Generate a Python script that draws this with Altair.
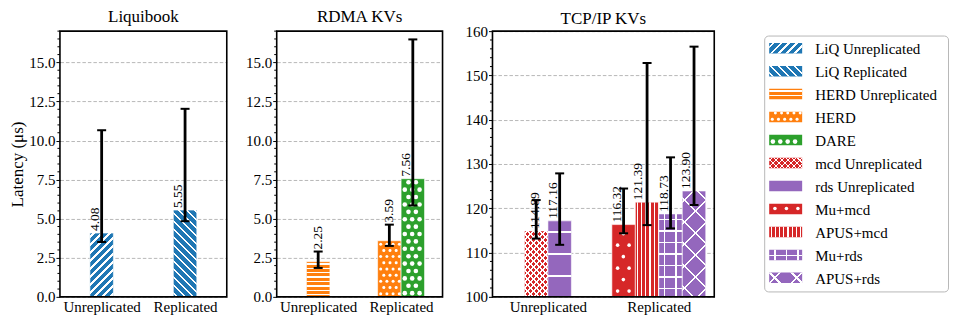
import altair as alt
import pandas as pd

FONT = "Liberation Serif"

# ---------------- data ----------------
panel_titles = ["Liquibook", "RDMA KVs", "TCP/IP KVs"]
group_names = ["Unreplicated", "Replicated"]

series_names = ["LiQ Unreplicated", "LiQ Replicated", "HERD Unreplicated", "HERD", "DARE",
                "mcd Unreplicated", "rds Unreplicated", "Mu+mcd", "APUS+mcd", "Mu+rds", "APUS+rds"]
series_panel = [0, 0, 1, 1, 1, 2, 2, 2, 2, 2, 2]
series_group = [0, 1, 0, 1, 1, 0, 0, 1, 1, 1, 1]
latency = [4.08, 5.55, 2.25, 3.59, 7.56, 114.89, 117.16, 116.32, 121.39, 118.73, 123.90]
err_low = [3.51, 4.84, 1.85, 3.26, 5.85, 113.16, 111.75, 114.35, 116.20, 115.46, 120.74]
err_high = [10.66, 12.03, 2.90, 4.62, 16.47, 121.86, 127.88, 124.46, 152.80, 131.50, 156.50]

# ---------------- style ----------------
series_color = ["#1f77b4", "#1f77b4", "#ff7f0e", "#ff7f0e", "#2ca02c",
                "#d62728", "#9467bd", "#d62728", "#d62728", "#9467bd", "#9467bd"]
# hatch: list of (kind, period px, line width px) ; "dots": (spacing, radius)
series_hatch = [
    [("d1", 8.0, 2.2)],
    [("d2", 8.0, 2.2)],
    [("h", 4.4, 1.4)],
    [("dots", 6.2, 1.5)],
    [("dots", 7.4, 2.3)],
    [("d1", 6.0, 1.8), ("d2", 6.0, 1.8)],
    [("h", 22.0, 1.4)],
    [("dots", 11.5, 1.8)],
    [("v", 4.2, 1.2)],
    [("h", 11.5, 1.3), ("v", 11.5, 1.3)],
    [("d1", 22.0, 2.2), ("d2", 22.0, 2.2)],
]
label_on_cap = [False, False, True, True, False, False, False, False, False, False, False]
label_shift_px = [-7, -7, 0, 0, -7, -1.5, -7, -7, -9, -7, -8]

panel_ydomain = [(0, 17), (0, 17), (100, 160)]
panel_yticks = [(0.5, 2.5, ".1f"), (0.5, 2.5, ".1f"), (2, 10, "d")]
panel_width = [167, 166, 222]
PH = 266
BAR_PX = 23.5
XDOM = (-0.5, 1.5)
WHITE = "#ffffff"
CLEAR = "rgba(255,255,255,0)"
LW = 185


def stripe_gradient(kind, W, H, period, lw):
    if kind == "h":
        D = H
        g = {"x1": 1, "x2": 1, "y1": 0, "y2": 1}
    elif kind == "v":
        D = W
        g = {"x1": 0, "x2": 1, "y1": 1, "y2": 1}
    else:
        D = W + H
        L = (W * W + H * H) / D
        if kind == "d1":
            g = {"x1": 0, "y1": 0, "x2": W / L, "y2": H / L}
        else:
            g = {"x1": 0, "y1": 1, "x2": W / L, "y2": 1 - H / L}
    stops = [(0.0, CLEAR)]
    s = period * 0.5 - lw / 2
    while s < D:
        a = max(s, 0.0)
        b = min(s + lw, D)
        if b - a > lw * 0.6:
            stops += [(a / D, CLEAR), (a / D, WHITE), (b / D, WHITE), (b / D, CLEAR)]
        s += period
    stops.append((1.0, CLEAR))
    g["gradient"] = "linear"
    g["stops"] = [{"offset": round(o, 5), "color": c} for o, c in stops]
    return g


def dot_centers(W, H, s, r):
    pts = []
    row = 0
    y = s / 2
    m = 0.6 * r
    while y <= H - m:
        x = s / 2 if row % 2 == 0 else 0.0
        while x <= W - m:
            if x >= m:
                pts.append((x, y))
            x += s
        y += s
        row += 1
    return pts


def build_panel(p):
    ymin, ymax = panel_ydomain[p]
    PW = panel_width[p]
    pxu = PW / (XDOM[1] - XDOM[0])
    w = BAR_PX / pxu
    pyu = PH / (ymax - ymin)
    rows = []
    for g in (0, 1):
        members = [i for i in range(len(series_names)) if series_panel[i] == p and series_group[i] == g]
        n = len(members)
        for k, i in enumerate(members):
            c = g + (k - (n - 1) / 2) * w
            rows.append(dict(i=i, name=series_names[i], x0=c - w / 2, x1=c + w / 2, xc=c,
                             base=ymin, val=latency[i], lo=err_low[i], hi=err_high[i],
                             color=series_color[i],
                             xl=c + label_shift_px[i] / pxu,
                             yl=err_high[i] if label_on_cap[i] else latency[i],
                             txt=f"{latency[i]:.2f}"))
    df = pd.DataFrame(rows)
    xs = alt.Scale(domain=list(XDOM), nice=False, zero=False)
    ys = alt.Scale(domain=[ymin, ymax], nice=False, zero=False)

    minor, major, fmt = panel_yticks[p]
    nmaj = int(round((ymax - ymin) / major))
    major_vals = [round(ymin + k * major, 3) for k in range(nmaj + 1)]
    nmin = int(round((ymax - ymin) / minor))
    minor_vals = [round(ymin + k * minor, 3) for k in range(nmin + 1)]
    minor_vals = [v for v in minor_vals if v not in major_vals]
    top_label = abs(major_vals[-1] - ymax) < 1e-9

    yaxis = alt.Axis(values=major_vals, format=fmt, tickSize=4, tickColor="black", tickWidth=1,
                     grid=True, gridDash=[3.5, 2], gridColor="#b0b0b0", gridWidth=0.9,
                     domain=False, labelFontSize=15, labelPadding=1, labelOverlap=False,
                     labelColor="black", labelFont=FONT,
                     title="Latency (μs)" if p == 0 else "", titleFontSize=17, titleFont=FONT,
                     titleFontWeight="normal", titlePadding=2, titleColor="black")
    xexpr = f"datum.value == 0 ? '{group_names[0]}' : '{group_names[1]}'"
    xaxis = alt.Axis(values=[0, 1], labelExpr=xexpr, ticks=False, grid=False, domain=False,
                     labelFontSize=15, labelPadding=3, title="", labelOverlap=False,
                     labelColor="black", labelFont=FONT)

    def X(f):
        return alt.X(f, scale=xs, axis=xaxis)

    def Y(f):
        return alt.Y(f, scale=ys, axis=yaxis)

    layers = []
    layers.append(alt.Chart(df).mark_bar(stroke="white", strokeWidth=0.6).encode(
        x=X("x0:Q"), x2="x1:Q", y=Y("base:Q"), y2="val:Q",
        fill=alt.Fill("color:N", scale=None)))

    dots = []
    for r in rows:
        i = r["i"]
        H = (r["val"] - ymin) * pyu
        for spec in series_hatch[i]:
            if spec[0] == "dots":
                s, rad = spec[1], spec[2]
                for (dx, dy) in dot_centers(BAR_PX, H, s, rad):
                    dots.append(dict(xd=r["x0"] + dx / pxu, yd=ymin + dy / pyu, sz=(2 * rad) ** 2))
            else:
                grad = stripe_gradient(spec[0], BAR_PX, H, spec[1], spec[2])
                layers.append(alt.Chart(df[df.i == i]).mark_bar(fill=grad, strokeWidth=0).encode(
                    x=X("x0:Q"), x2="x1:Q", y=Y("base:Q"), y2="val:Q"))
    if dots:
        layers.append(alt.Chart(pd.DataFrame(dots)).mark_point(
            filled=True, color="white", opacity=1, strokeWidth=0, shape="circle").encode(
            x=X("xd:Q"), y=Y("yd:Q"), size=alt.Size("sz:Q", scale=None)))

    # minor ticks
    layers.append(alt.Chart(pd.DataFrame({"m": minor_vals})).mark_rule(color="black", strokeWidth=1).encode(
        x=alt.value(-2.5), x2=alt.value(0), y=Y("m:Q")))

    # error bars
    layers.append(alt.Chart(df).mark_rule(color="black", strokeWidth=2.8).encode(
        x=X("xc:Q"), y=Y("lo:Q"), y2="hi:Q"))
    caps = pd.DataFrame([dict(xc=r["xc"], cy=v) for r in rows for v in (r["lo"], r["hi"])])
    layers.append(alt.Chart(caps).mark_tick(orient="horizontal", color="black", size=9, thickness=2,
                                            opacity=1).encode(x=X("xc:Q"), y=Y("cy:Q")))
    # value labels
    layers.append(alt.Chart(df).mark_text(angle=270, align="left", baseline="middle", dx=2,
                                          font=FONT, fontSize=13.5, color="black").encode(
        x=X("xl:Q"), y=Y("yl:Q"), text="txt:N"))
    # frame
    layers.append(alt.Chart(pd.DataFrame({"a": [0]})).mark_rect(
        fillOpacity=0, stroke="black", strokeWidth=1.6).encode(
        x=alt.value(0), x2=alt.value(PW), y=alt.value(0), y2=alt.value(PH)))

    return alt.layer(*layers).properties(
        width=PW, height=PH,
        title=alt.TitleParams(panel_titles[p], font=FONT, fontSize=17, fontWeight="normal",
                              color="black", offset=(-4 if top_label else 4), frame="group"))


def build_legend():
    sc = PH / 270.0
    y_first = 17.3 * sc
    y_step = 23.34 * sc
    sw_x0, sw_x1, sw_h, tx = 5.0, 38.0, 10.5, 51.0
    lxs = alt.Scale(domain=[0, LW], nice=False, zero=False)
    lys = alt.Scale(domain=[0, PH], reverse=True, nice=False, zero=False)
    rows = []
    for k, name in enumerate(series_names):
        yc = y_first + k * y_step
        rows.append(dict(k=k, name=name, color=series_color[k], sx0=sw_x0, sx1=sw_x1,
                         sy0=yc - sw_h / 2, sy1=yc + sw_h / 2, ty=yc + 1, tx=tx))
    df = pd.DataFrame(rows)
    box_bottom = y_first + 10 * y_step + 14.3 * sc
    layers = [alt.Chart(pd.DataFrame({"a": [0]})).mark_rect(
        fill="white", stroke="#b8b8b8", strokeWidth=1, cornerRadius=4).encode(
        x=alt.value(0.5), x2=alt.value(LW - 0.5), y=alt.value(5 * sc), y2=alt.value(box_bottom))]
    layers.append(alt.Chart(df).mark_bar(strokeWidth=0).encode(
        x=alt.X("sx0:Q", scale=lxs, axis=None), x2="sx1:Q",
        y=alt.Y("sy0:Q", scale=lys, axis=None), y2="sy1:Q",
        fill=alt.Fill("color:N", scale=None)))
    dots = []
    W = sw_x1 - sw_x0
    for r in rows:
        k = r["k"]
        for spec in series_hatch[k]:
            if spec[0] == "dots":
                s, rad = spec[1], spec[2]
                for (dx, dy) in dot_centers(W, sw_h, s, rad):
                    dots.append(dict(xd=r["sx0"] + dx, yd=r["sy1"] - dy, sz=(2 * rad) ** 2))
            else:
                grad = stripe_gradient(spec[0], W, sw_h, spec[1], spec[2])
                layers.append(alt.Chart(df[df.k == k]).mark_bar(fill=grad, strokeWidth=0).encode(
                    x=alt.X("sx0:Q", scale=lxs, axis=None), x2="sx1:Q",
                    y=alt.Y("sy0:Q", scale=lys, axis=None), y2="sy1:Q"))
    layers.append(alt.Chart(pd.DataFrame(dots)).mark_point(
        filled=True, color="white", opacity=1, strokeWidth=0, shape="circle").encode(
        x=alt.X("xd:Q", scale=lxs, axis=None), y=alt.Y("yd:Q", scale=lys, axis=None),
        size=alt.Size("sz:Q", scale=None)))
    layers.append(alt.Chart(df).mark_text(align="left", baseline="middle", font=FONT, fontSize=15,
                                          color="black").encode(
        x=alt.X("tx:Q", scale=lxs, axis=None), y=alt.Y("ty:Q", scale=lys, axis=None), text="name:N"))
    return alt.layer(*layers).properties(width=LW, height=PH)


panels = [build_panel(p) for p in range(3)]
chart = alt.hconcat(*panels, build_legend(), spacing=50, bounds="flush").properties(
    padding={"left": 0, "top": 0, "right": 2, "bottom": 0}
).configure_view(stroke=None).configure_axis(labelFont=FONT, titleFont=FONT)

chart.save("out.html", embed_options={"renderer": "svg", "actions": False})
